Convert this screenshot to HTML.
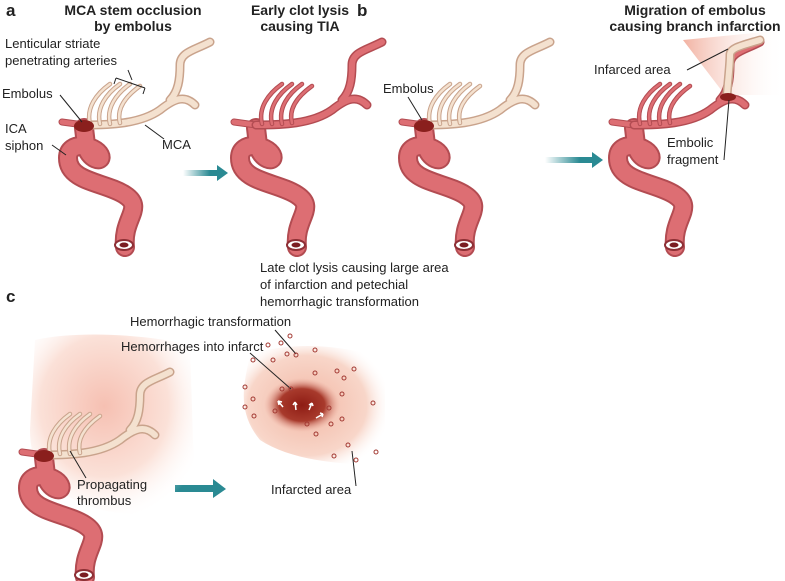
<!DOCTYPE html>
<html><head><meta charset="utf-8"><style>
body{margin:0;background:#fff}
svg{display:block}
text{font-family:"Liberation Sans",sans-serif;font-size:13px;fill:#222}
.b{font-weight:bold;font-size:14px}
.L{font-weight:bold;font-size:17px}
</style></head><body>
<svg width="785" height="581" viewBox="0 0 785 581" xmlns="http://www.w3.org/2000/svg">
<defs>
<linearGradient id="ar" x1="0" x2="1"><stop offset="0" stop-color="#2a8a93" stop-opacity="0"/><stop offset="0.6" stop-color="#2a8a93"/></linearGradient>
<radialGradient id="inf" cx="0.45" cy="0.5" r="0.6"><stop offset="0" stop-color="#f2b7a4"/><stop offset="0.7" stop-color="#f8d6c9"/><stop offset="1" stop-color="#fff" stop-opacity="0"/></radialGradient>
<linearGradient id="tri" x1="0" x2="1"><stop offset="0" stop-color="#f2b2a2"/><stop offset="1" stop-color="#fff" stop-opacity="0"/></linearGradient>
<radialGradient id="core" cx="0.5" cy="0.5" r="0.5"><stop offset="0" stop-color="#8e1c14"/><stop offset="0.6" stop-color="#a83a2c"/><stop offset="1" stop-color="#e8a89a" stop-opacity="0"/></radialGradient>
<radialGradient id="cbg" cx="0.45" cy="0.4" r="0.65"><stop offset="0" stop-color="#f6c0b2"/><stop offset="0.6" stop-color="#fbe1d8"/><stop offset="1" stop-color="#fff" stop-opacity="0"/></radialGradient>
<g id="ica">
<path d="M125,247 C122,218 145,208 125,195 C105,182 68,182 68,158 C68,140 95,145 100,155 C104,163 88,160 86,145 L84,128" fill="none" stroke="#b34c52" stroke-width="20" stroke-linecap="round"/>
<path d="M125,247 C122,218 145,208 125,195 C105,182 68,182 68,158 C68,140 95,145 100,155 C104,163 88,160 86,145 L84,128" fill="none" stroke="#dd6e73" stroke-width="16" stroke-linecap="round"/>
<ellipse cx="124" cy="245" rx="9" ry="5" fill="#fff" stroke="#8e2f35" stroke-width="2"/>
<ellipse cx="124" cy="245" rx="4.5" ry="2.5" fill="#7a1d22"/>
<path d="M62,122 L84,125" stroke="#b34c52" stroke-width="7" stroke-linecap="round"/>
<path d="M62,122 L84,125" stroke="#dd6e73" stroke-width="5" stroke-linecap="round"/>
</g>
<g id="mca">
<path d="M84,125 C110,125 140,124 160,110 C175,98 185,95 195,105 M170,100 C178,92 180,80 180,65 C180,52 195,50 210,42" fill="none" stroke="var(--e)" stroke-width="9" stroke-linecap="round"/>
<path d="M84,125 C110,125 140,124 160,110 C175,98 185,95 195,105 M170,100 C178,92 180,80 180,65 C180,52 195,50 210,42" fill="none" stroke="var(--m)" stroke-width="6" stroke-linecap="round"/>
<path d="M90,124 C86,108 96,94 110,84 M100,124 C96,108 106,94 120,84 M110,124 C106,108 116,94 130,84 M120,123 C116,108 126,96 140,86" fill="none" stroke="var(--e)" stroke-width="4.5" stroke-linecap="round"/>
<path d="M90,124 C86,108 96,94 110,84 M100,124 C96,108 106,94 120,84 M110,124 C106,108 116,94 130,84 M120,123 C116,108 126,96 140,86" fill="none" stroke="var(--m)" stroke-width="2.5" stroke-linecap="round"/>
</g>
</defs>

<!-- arrows -->
<path d="M183,170 L217,170 L217,165 L228,173 L217,181 L217,176 L183,176Z" fill="url(#ar)"/>
<path d="M545,157 L592,157 L592,152 L603,160 L592,168 L592,163 L545,163Z" fill="url(#ar)"/>
<path d="M175,485 L213,485 L213,479 L226,489 L213,498 L213,492 L175,492Z" fill="#2a8a93"/>

<!-- panel a -->
<use href="#ica"/>
<use href="#mca" style="--m:#f4e1cf;--e:#c9a38c"/>
<ellipse cx="84" cy="126" rx="10" ry="6" fill="#8a1f1d"/>
<text x="6" y="16" class="L">a</text>
<text x="133" y="15" class="b" text-anchor="middle">MCA stem occlusion</text>
<text x="133" y="31" class="b" text-anchor="middle">by embolus</text>
<text x="5" y="48">Lenticular striate</text>
<text x="5" y="65">penetrating arteries</text>
<path d="M128,70 L132,80 M116,78 L145,88 M116,78 L114,84 M145,88 L143,94" stroke="#222" fill="none"/>
<text x="2" y="98">Embolus</text>
<line x1="60" y1="95" x2="82" y2="122" stroke="#222"/>
<text x="5" y="133">ICA</text>
<text x="5" y="150">siphon</text>
<line x1="52" y1="145" x2="66" y2="155" stroke="#222"/>
<text x="162" y="149">MCA</text>
<line x1="145" y1="125" x2="164" y2="139" stroke="#222"/>

<!-- panel a2 -->
<g transform="translate(172,0)"><use href="#ica"/><use href="#mca" style="--m:#dd6e73;--e:#b34c52"/></g>
<text x="300" y="15" class="b" text-anchor="middle">Early clot lysis</text>
<text x="300" y="31" class="b" text-anchor="middle">causing TIA</text>

<!-- panel b1 -->
<text x="357" y="16" class="L">b</text>
<g transform="translate(340,0)"><use href="#ica"/><use href="#mca" style="--m:#f4e1cf;--e:#c9a38c"/></g>
<ellipse cx="424" cy="126" rx="10" ry="6" fill="#8a1f1d"/>
<text x="383" y="93">Embolus</text>
<line x1="408" y1="97" x2="422" y2="120" stroke="#222"/>

<!-- panel b2 -->
<path d="M683,40 L785,30 L785,95 L725,95Z" fill="url(#tri)"/>
<g transform="translate(550,0)"><use href="#ica"/><use href="#mca" style="--m:#dd6e73;--e:#b34c52"/></g>
<path d="M727,95 C728,80 730,65 730,55 C730,48 740,46 760,40" fill="none" stroke="#c9a38c" stroke-width="9" stroke-linecap="round"/>
<path d="M727,95 C728,80 730,65 730,55 C730,48 740,46 760,40" fill="none" stroke="#f4e1cf" stroke-width="6" stroke-linecap="round"/>
<ellipse cx="728" cy="97" rx="8" ry="4" fill="#8a1f1d"/>
<text x="695" y="15" class="b" text-anchor="middle">Migration of embolus</text>
<text x="695" y="31" class="b" text-anchor="middle">causing branch infarction</text>
<text x="594" y="74">Infarced area</text>
<line x1="687" y1="70" x2="728" y2="49" stroke="#222"/>
<text x="667" y="147">Embolic</text>
<text x="667" y="164">fragment</text>
<line x1="724" y1="160" x2="729" y2="100" stroke="#222"/>

<!-- panel c -->
<text x="6" y="302" class="L">c</text>
<path d="M35,340 C80,330 150,335 190,345 L195,505 C160,518 110,518 75,500 C45,485 30,465 30,430Z" fill="url(#cbg)"/>
<g transform="translate(-40,330)"><use href="#ica"/><use href="#mca" style="--m:#f4e1cf;--e:#c9a38c"/></g>
<ellipse cx="44" cy="456" rx="10" ry="6" fill="#8a1f1d"/>
<text x="77" y="489">Propagating</text>
<text x="77" y="505">thrombus</text>
<line x1="70" y1="451" x2="86" y2="478" stroke="#222"/>

<text x="260" y="272">Late clot lysis causing large area</text>
<text x="260" y="289">of infarction and petechial</text>
<text x="260" y="306">hemorrhagic transformation</text>
<text x="130" y="326">Hemorrhagic transformation</text>
<text x="121" y="351">Hemorrhages into infarct</text>
<path d="M250,355 C245,380 235,410 260,440 C290,460 340,465 385,465 L385,360 C350,345 290,340 250,355Z" fill="url(#inf)"/>
<ellipse cx="302" cy="405" rx="38" ry="27" fill="url(#core)"/>
<g fill="none" stroke="#fff" stroke-width="1.5">
<path d="M283,407 l-5,-6 m0,0 l1,4 m-1,-4 l4,1"/><path d="M296,410 l-1,-8 m0,0 l-2,3 m2,-3 l2,3"/><path d="M309,410 l3,-7 m0,0 l-3,2 m3,-2 l1,3"/><path d="M316,418 l7,-4 m0,0 l-3,-1 m3,1 l-1,3"/>
</g>
<line x1="275" y1="330" x2="296" y2="354" stroke="#222"/>
<line x1="250" y1="353" x2="291" y2="389" stroke="#222"/>
<g fill="none" stroke="#a33a33" stroke-width="1">
<circle cx="290" cy="336" r="2"/><circle cx="268" cy="345" r="2"/><circle cx="281" cy="343" r="2"/><circle cx="287" cy="354" r="2"/><circle cx="296" cy="355" r="2"/><circle cx="273" cy="360" r="2"/><circle cx="253" cy="360" r="2"/><circle cx="315" cy="350" r="2"/><circle cx="315" cy="373" r="2"/><circle cx="337" cy="371" r="2"/><circle cx="354" cy="369" r="2"/><circle cx="344" cy="378" r="2"/><circle cx="245" cy="387" r="2"/><circle cx="253" cy="399" r="2"/><circle cx="245" cy="407" r="2"/><circle cx="254" cy="416" r="2"/><circle cx="282" cy="389" r="2"/><circle cx="291" cy="389" r="2"/><circle cx="275" cy="411" r="2"/><circle cx="329" cy="408" r="2"/><circle cx="342" cy="394" r="2"/><circle cx="373" cy="403" r="2"/><circle cx="342" cy="419" r="2"/><circle cx="307" cy="424" r="2"/><circle cx="331" cy="424" r="2"/><circle cx="316" cy="434" r="2"/><circle cx="348" cy="445" r="2"/><circle cx="334" cy="456" r="2"/><circle cx="356" cy="460" r="2"/><circle cx="376" cy="452" r="2"/>
</g>
<line x1="352" y1="451" x2="356" y2="486" stroke="#222"/>
<text x="271" y="494">Infarcted area</text>
</svg>
</body></html>
